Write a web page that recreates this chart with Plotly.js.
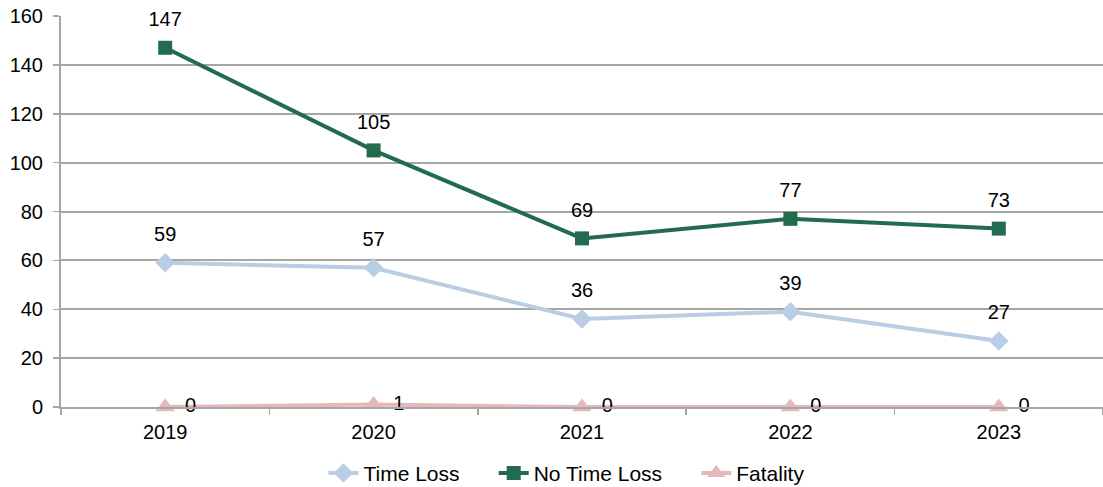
<!DOCTYPE html>
<html><head><meta charset="utf-8">
<script src="https://cdn.plot.ly/plotly-3.0.1.min.js"></script>
<style>html,body{margin:0;padding:0;background:#fff}#chart{width:1103px;height:487px}</style>
</head><body><div id="chart"></div>
<script>
const years = ['2019','2020','2021','2022','2023'];
const timeLoss = [59, 57, 36, 39, 27];
const noTimeLoss = [147, 105, 69, 77, 73];
const fatality = [0, 1, 0, 0, 0];
const yTicks = [0, 20, 40, 60, 80, 100, 120, 140, 160];

const font = {family: 'Liberation Sans, Arial, sans-serif', size: 20, color: '#000'};
const legendFont = {family: 'Liberation Sans, Arial, sans-serif', size: 21, color: '#000'};
const gap = '\u00a0\u00a0\u00a0\u00a0\u00a0';
const series = [
  {name: 'Time Loss', y: timeLoss, color: '#b9cde5', symbol: 'diamond', size: 15, pos: 'top center', pad: 25, lg: gap},
  {name: 'No Time Loss', y: noTimeLoss, color: '#236b4f', symbol: 'square', size: 14, pos: 'top center', pad: 25, lg: gap},
  {name: 'Fatality', y: fatality, color: '#e6b9b8', symbol: 'triangle-up', size: 17, pos: 'middle right', pad: 30, lg: ''}
];
const traces = [];
series.forEach(s => {
  traces.push({x: years, y: s.y, name: s.name + s.lg, type: 'scatter', mode: 'lines+markers',
    line: {color: s.color, width: 4}, marker: {symbol: s.symbol, size: s.size, color: s.color}, cliponaxis: false});
});
series.forEach(s => {
  traces.push({x: years, y: s.y, type: 'scatter', mode: 'markers+text', showlegend: false, hoverinfo: 'skip',
    marker: {size: s.pad, opacity: 0}, text: s.y.map(String), textposition: s.pos, textfont: font, cliponaxis: false});
});
const layout = {
  width: 1103, height: 487,
  margin: {l: 61, r: 0, t: 16, b: 80},
  paper_bgcolor: '#fff', plot_bgcolor: '#fff',
  font: font,
  showlegend: true,
  legend: {orientation: 'h', x: 0.514, xanchor: 'center', xref: 'container', yref: 'container', y: 0.028, yanchor: 'middle', font: legendFont, traceorder: 'normal'},
  xaxis: {type: 'category', range: [-0.5, 4.5], showgrid: false, showline: true, linecolor: '#a6a6a6', linewidth: 2,
          ticks: 'outside', ticklen: 6, tickcolor: '#a6a6a6', tickwidth: 1.5, tickson: 'boundaries', tickfont: font, zeroline: false,
          ticklabelstandoff: 6},
  yaxis: {range: [0, 160], tickvals: yTicks, ticktext: yTicks.map(String), showgrid: true, gridcolor: '#a6a6a6', gridwidth: 2,
          showline: true, linecolor: '#a6a6a6', linewidth: 2, ticks: 'outside', ticklen: 6, tickcolor: '#a6a6a6', tickwidth: 1.5,
          tickfont: font, zeroline: false, ticklabelstandoff: 6}
};
Plotly.newPlot('chart', traces, layout, {displayModeBar: false, staticPlot: true});
</script></body></html>
